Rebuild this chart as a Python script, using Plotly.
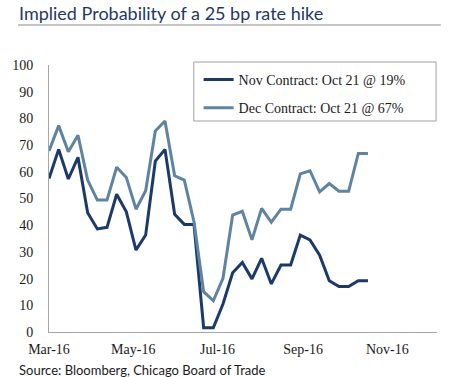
import plotly.graph_objects as go
import pandas as pd

dates = pd.date_range("2016-03-04", periods=34, freq="7D")
nov_values = [57.5, 68.4, 57.3, 65.4, 44.7, 38.6, 39.2, 51.6, 45.0, 30.7,
              36.3, 64.0, 68.4, 44.1, 40.3, 40.3, 1.6, 1.6, 10.5, 22.2,
              26.0, 19.9, 27.6, 18.0, 25.1, 25.1, 36.3, 34.5, 28.8, 19.2,
              17.0, 17.0, 19.2, 19.2]
dec_values = [67.8, 77.3, 67.5, 73.7, 56.9, 49.4, 49.4, 61.7, 57.9, 46.0,
              52.9, 75.3, 79.0, 58.5, 56.9, 41.3, 15.1, 11.7, 20.1, 43.8,
              45.2, 34.5, 46.3, 41.1, 46.0, 46.0, 59.2, 60.4, 52.5, 55.6,
              52.7, 52.7, 66.9, 66.9]
series_names = ["Nov Contract: Oct 21 @ 19%", "Dec Contract: Oct 21 @ 67%"]
tick_dates = ["2016-03-04", "2016-05-04", "2016-07-04", "2016-09-04", "2016-11-04"]
tick_labels = ["Mar-16", "May-16", "Jul-16", "Sep-16", "Nov-16"]
y_ticks = list(range(0, 101, 10))

serif = "Liberation Serif, Times New Roman, serif"
sans = "Lato, Noto Sans, sans-serif"

# plot area in pixels: x 35..437, y 65..332
PW, PH = 402, 267
def px(x):
    return (x - 35) / PW
def py(y):
    return 1 - (y - 65) / PH

fig = go.Figure()
fig.add_trace(go.Scatter(x=dates, y=nov_values, mode="lines", name=series_names[0],
                         legendgroup="a",
                         line=dict(color="#1b3a6b", width=3)))
fig.add_trace(go.Scatter(x=dates, y=dec_values, mode="lines", name=series_names[1],
                         legendgroup="b",
                         line=dict(color="#5f84a2", width=3)))

fig.update_layout(
    width=450, height=377,
    margin=dict(l=35, r=13, t=65, b=45),
    paper_bgcolor="white", plot_bgcolor="white",
    showlegend=True,
    legend=dict(x=px(190), y=py(64), xanchor="left", yanchor="top",
                bgcolor="rgba(0,0,0,0)", borderwidth=0,
                font=dict(family=serif, size=14, color="#1a1a1a"),
                traceorder="grouped", tracegroupgap=7),
    xaxis=dict(type="date", range=["2016-03-04", "2016-12-10"],
               tickvals=tick_dates, ticktext=tick_labels,
               showgrid=False, zeroline=False, showline=True,
               linecolor="#a6a6a6", linewidth=1, ticks="", ticklabelstandoff=4,
               tickfont=dict(family=serif, size=14, color="#1a1a1a")),
    yaxis=dict(range=[0, 100], tickvals=y_ticks,
               showgrid=False, zeroline=False, showline=True,
               linecolor="#a6a6a6", linewidth=1, ticks="", ticklabelstandoff=12,
               tickfont=dict(family=serif, size=14, color="#1a1a1a")),
)

# legend frame
fig.add_shape(type="rect", xref="paper", yref="paper",
              x0=px(185), x1=px(436), y0=py(121), y1=py(62),
              line=dict(color="#a0a0a0", width=1), fillcolor="rgba(0,0,0,0)", layer="below")

fig.add_annotation(text="Implied Probability of a 25 bp rate hike", xref="paper", yref="paper",
                   x=px(2), y=py(0), xanchor="left", yanchor="top", showarrow=False,
                   font=dict(family=sans, size=18, color="#1f3864"))
fig.add_shape(type="line", xref="paper", yref="paper",
              x0=px(3), x1=px(441), y0=py(25), y1=py(25),
              line=dict(color="#8c8c8c", width=1))
fig.add_annotation(text="Source: Bloomberg, Chicago Board of Trade", xref="paper", yref="paper",
                   x=px(2), y=py(360), xanchor="left", yanchor="top", showarrow=False,
                   font=dict(family=sans, size=13, color="#1a1a1a"))

fig.write_html("out.html",
               config={"displayModeBar": False},
               post_script="document.body.style.margin='0';document.body.style.padding='0';")
